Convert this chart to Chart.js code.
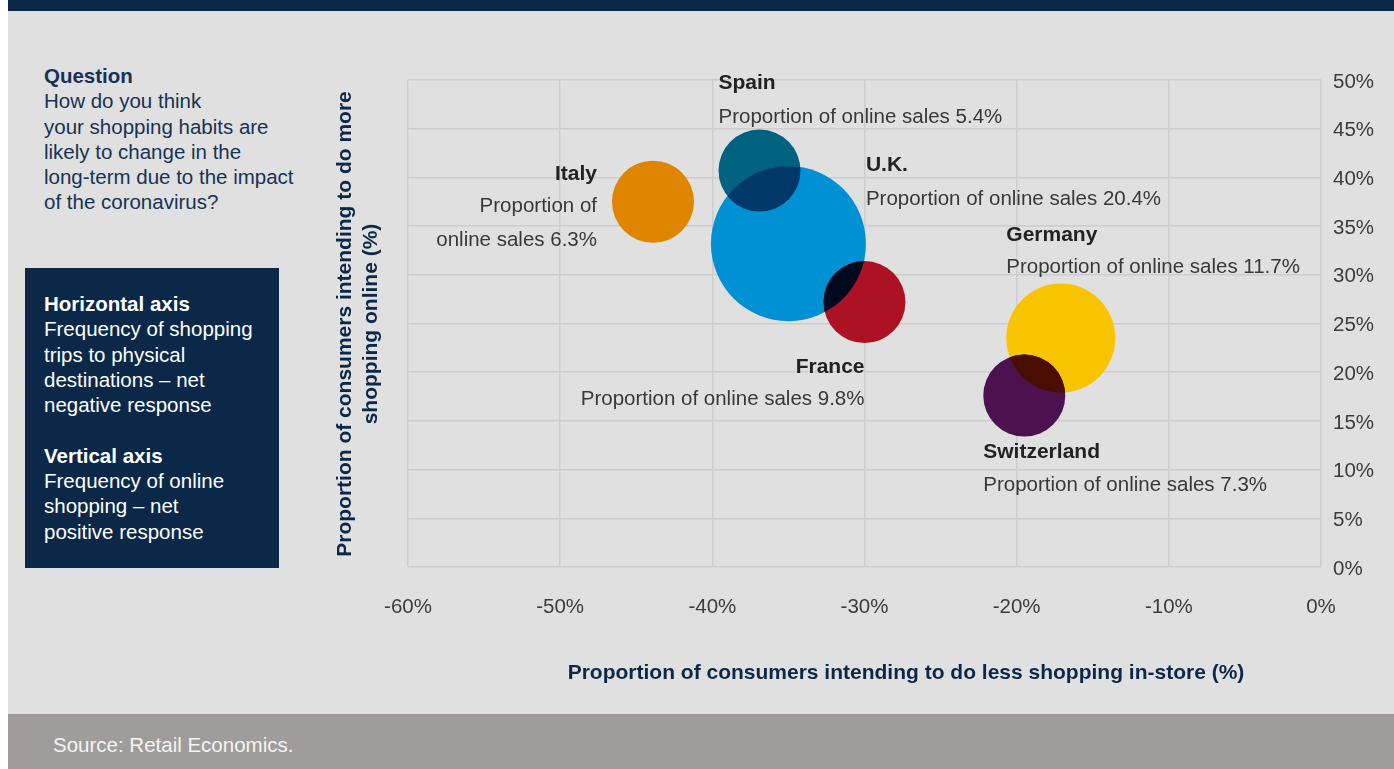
<!DOCTYPE html>
<html>
<head>
<meta charset="utf-8">
<title>Shopping habits after the coronavirus</title>
<script src="https://cdn.jsdelivr.net/npm/chart.js@4.4.0/dist/chart.umd.min.js"></script>
<style>
  body {
    margin: 0;
    width: 1394px;
    height: 769px;
    position: relative;
    overflow: hidden;
    background: #fff;
    font-family: "Liberation Sans", Arial, sans-serif;
  }
  #topbar { position: absolute; left: 8px; top: 0; width: 1386px; height: 11px; background: #0b2849; }
  #panel { position: absolute; left: 8px; top: 11px; width: 1386px; height: 703px; background: #e0e0e0; }
  #footer {
    position: absolute; left: 8px; top: 714px; width: 1386px; height: 55px;
    background: #a09c9b; color: #f4f4f4; font-size: 20.5px;
  }
  #footer span { position: absolute; left: 45px; top: 19px; line-height: 24px; }
  #question {
    position: absolute; left: 44px; top: 63px; font-size: 20.5px; line-height: 25.3px;
    color: #163357; white-space: nowrap;
  }
  #axes-note {
    position: absolute; left: 25px; top: 268px; width: 254px; height: 300px;
    background: #0b2849; color: #fff; box-sizing: border-box;
    padding: 23px 0 0 19px; font-size: 20.5px; line-height: 25.3px; white-space: nowrap;
  }
  b { font-weight: bold; }
  /* the canvas runs a few px past the right edge; the bubble chart keeps
     a margin of one max radius on the right, which sits inside the y axis here */
  #chart { position: absolute; left: 0; top: 0; }
  .axis-title { position: absolute; font-weight: bold; font-size: 21px; color: #0b2849; white-space: nowrap; }
  #x-title { left: 906px; top: 660px; line-height: 24px; transform: translateX(-50%); }
  #y-title {
    left: 357px; top: 323.5px; width: 500px; line-height: 26px; text-align: center;
    transform: translate(-50%, -50%) rotate(-90deg);
  }
</style>
</head>
<body>
<div id="topbar"></div>
<div id="panel"></div>
<div id="footer"><span>Source: Retail Economics.</span></div>

<div id="question">
  <b>Question</b><br>
  How do you think<br>
  your shopping habits are<br>
  likely to change in the<br>
  long-term due to the impact<br>
  of the coronavirus?
</div>

<div id="axes-note">
  <b>Horizontal axis</b><br>
  Frequency of shopping<br>
  trips to physical<br>
  destinations – net<br>
  negative response<br>
  <br>
  <b>Vertical axis</b><br>
  Frequency of online<br>
  shopping – net<br>
  positive response
</div>

<canvas id="chart" width="1399" height="714"></canvas>

<div class="axis-title" id="x-title">Proportion of consumers intending to do less shopping in-store (%)</div>
<div class="axis-title" id="y-title">Proportion of consumers intending to do more<br>shopping online (%)</div>

<script>
// survey results per country
var countries   = ['Italy', 'Spain', 'U.K.', 'France', 'Germany', 'Switzerland'];
var lessInStore = [-43.9, -36.9, -35.0, -30.0, -17.1, -19.5];   // % intending to shop less in-store
var moreOnline  = [37.5, 40.7, 33.2, 27.2, 23.5, 17.6];         // % intending to shop more online
var onlineSales = [6.3, 5.4, 20.4, 9.8, 11.7, 7.3];             // proportion of online sales
var xTicks = [-60, -50, -40, -30, -20, -10, 0];
var yTicks = [0, 5, 10, 15, 20, 25, 30, 35, 40, 45, 50];

// look of the bubbles
var bubbleColors = ['#df8500', '#00627e', '#0091d5', '#ac1224', '#f8c400', '#4c1250'];
var bubbleRadius = [41, 41, 77.5, 41, 54.5, 41];

// where each country's caption sits relative to its bubble
// anchor: which point of the bubble x is measured from, align: text alignment
var captionPlace = [
    { anchor: 'left',   dx: -15, align: 'right', dy: [-22, 10.5, 44.5], wrap: true },
    { anchor: 'left',   dx: 0,   align: 'left',  dy: [-82, -48] },
    { anchor: 'right',  dx: 0,   align: 'left',  dy: [-72.5, -39] },
    { anchor: 'center', dx: 0,   align: 'right', dy: [70.7, 103] },
    { anchor: 'left',   dx: 0,   align: 'left',  dy: [-97.3, -64.7] },
    { anchor: 'left',   dx: 0,   align: 'left',  dy: [62.3, 95.7] }
];

var FONT = '"Liberation Sans", Arial, sans-serif';

function hexRgb(h) {
    var n = parseInt(h.slice(1), 16);
    return [(n >> 16) & 255, (n >> 8) & 255, n & 255];
}

// the colour where two bubbles overlap (multiply blend)
function mixColor(a, b) {
    var p = hexRgb(a), q = hexRgb(b);
    return 'rgb(' + p.map(function (v, i) { return Math.round(v * q[i] / 255); }).join(',') + ')';
}

var overlapPlugin = {
    id: 'overlap',
    afterDatasetsDraw: function (chart) {
        var ctx = chart.ctx;
        var pts = chart.getDatasetMeta(0).data;
        for (var i = 0; i < pts.length; i++) {
            for (var j = i + 1; j < pts.length; j++) {
                var a = pts[i], b = pts[j];
                var ra = a.options.radius, rb = b.options.radius;
                if (Math.hypot(a.x - b.x, a.y - b.y) >= ra + rb) continue;
                ctx.save();
                ctx.beginPath();
                ctx.arc(a.x, a.y, ra, 0, Math.PI * 2);
                ctx.clip();
                ctx.beginPath();
                ctx.arc(b.x, b.y, rb, 0, Math.PI * 2);
                ctx.fillStyle = mixColor(bubbleColors[i], bubbleColors[j]);
                ctx.fill();
                ctx.restore();
            }
        }
    }
};

var captionPlugin = {
    id: 'captions',
    afterDraw: function (chart) {
        var ctx = chart.ctx;
        var pts = chart.getDatasetMeta(0).data;
        ctx.save();
        ctx.textBaseline = 'alphabetic';
        pts.forEach(function (pt, i) {
            var p = captionPlace[i];
            var r = pt.options.radius;
            var x = pt.x + p.dx + (p.anchor === 'left' ? -r : p.anchor === 'right' ? r : 0);
            var lines = p.wrap
                ? ['Proportion of', 'online sales ' + onlineSales[i] + '%']
                : ['Proportion of online sales ' + onlineSales[i] + '%'];
            ctx.textAlign = p.align;
            ctx.font = 'bold 21px ' + FONT;
            ctx.fillStyle = '#222222';
            ctx.fillText(countries[i], x, pt.y + p.dy[0]);
            ctx.font = '20.5px ' + FONT;
            ctx.fillStyle = '#383838';
            lines.forEach(function (t, k) {
                ctx.fillText(t, x, pt.y + p.dy[k + 1]);
            });
        });
        ctx.restore();
    }
};

var pct = function (v) { return v + '%'; };

new Chart(document.getElementById('chart'), {
    type: 'bubble',
    data: {
        datasets: [{
            data: countries.map(function (c, i) {
                return { x: lessInStore[i], y: moreOnline[i], r: bubbleRadius[i] };
            }),
            backgroundColor: bubbleColors,
            borderWidth: 0,
            hoverBorderWidth: 0,
            clip: false
        }]
    },
    options: {
        responsive: false,
        animation: false,
        events: [],
        layout: { padding: { left: 408, top: 80, right: 0, bottom: 0 } },
        plugins: { legend: { display: false }, tooltip: { enabled: false } },
        scales: {
            x: {
                type: 'linear',
                min: -60,
                max: 0,
                afterBuildTicks: function (s) { s.ticks = xTicks.map(function (v) { return { value: v }; }); },
                afterFit: function (s) { s.height = 147; },
                grid: { color: '#cdcdcd', lineWidth: 1.5, drawTicks: false },
                border: { display: false },
                ticks: { padding: 28, color: '#3c3c3c', font: { family: FONT, size: 20.5 }, callback: pct, maxRotation: 0 }
            },
            y: {
                type: 'linear',
                position: 'right',
                min: 0,
                max: 50,
                afterBuildTicks: function (s) { s.ticks = yTicks.map(function (v) { return { value: v }; }); },
                afterFit: function (s) { s.width = 78; },
                grid: { color: '#cdcdcd', lineWidth: 1.5, drawTicks: false },
                border: { display: false },
                ticks: { padding: 12, labelOffset: 2, color: '#3c3c3c', font: { family: FONT, size: 20.5 }, callback: pct }
            }
        }
    },
    plugins: [overlapPlugin, captionPlugin]
});
</script>
</body>
</html>
